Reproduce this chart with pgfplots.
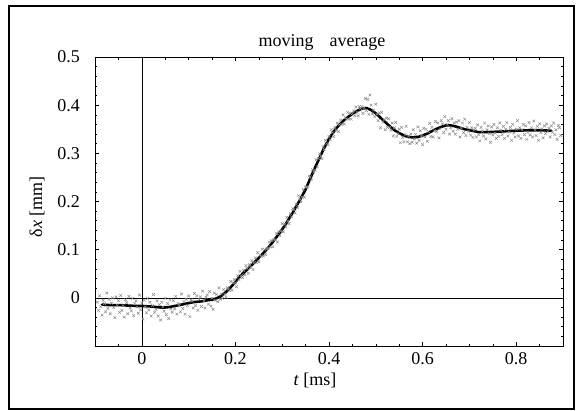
\documentclass[border=0pt]{standalone}
\usepackage{fontspec}
\setmainfont{Liberation Serif}
\usepackage{pgfplots}
\pgfplotsset{compat=1.18}
\begin{document}
\fontsize{18bp}{22bp}\selectfont
\begin{tikzpicture}
\path[use as bounding box] (-95bp,-65bp) rectangle (482bp,346bp);
\draw[line width=1.1pt] (-86bp,-63bp) rectangle (479bp,340bp);
\begin{axis}[
  at={(0,0)}, anchor=south west,
  scale only axis, width=468bp, height=289bp,
  xmin=-0.1, xmax=0.9, ymin=-0.1, ymax=0.5,
  xtick={0,0.2,0.4,0.6,0.8},
  xticklabels={0,0.2,0.4,0.6,0.8},
  ytick={0,0.1,0.2,0.3,0.4,0.5},
  yticklabels={0,0.1,0.2,0.3,0.4,0.5},
  minor xtick={-0.1,-0.05,0.05,0.1,0.15,0.25,0.3,0.35,0.45,0.5,0.55,0.65,0.7,0.75,0.85,0.9},
  minor ytick={-0.1,-0.08,-0.06,-0.04,-0.02,0.02,0.04,0.06,0.08,0.12,0.14,0.16,0.18,0.22,0.24,0.26,0.28,0.32,0.34,0.36,0.38,0.42,0.44,0.46,0.48},
  tick align=inside,
  major tick length=4bp, minor tick length=2.5bp,
  every tick/.style={black, line width=0.6pt},
  axis line style={black, line width=0.8pt},
  yticklabel style={xshift=-9bp},
  /pgf/number format/assume math mode=true,
  clip=true,
]
\addplot[black, line width=0.6pt] coordinates {(0,-0.1) (0,0.5)};
\addplot[black, line width=0.6pt] coordinates {(-0.1,0) (0.9,0)};
\addplot[only marks, mark=x, mark size=1.9pt, color=black!45, mark options={line width=0.5pt}] coordinates {
(-0.095,-0.009) (-0.0925,-0.026) (-0.09,0.004) (-0.0875,-0.018) (-0.085,-0.036) (-0.0825,-0.005) (-0.08,-0.012) (-0.0775,-0.029) (-0.075,0.010) (-0.0725,-0.022)
(-0.07,-0.003) (-0.0675,-0.033) (-0.065,-0.011) (-0.0625,0.000) (-0.06,-0.020) (-0.0575,-0.041) (-0.055,0.002) (-0.0525,-0.016) (-0.05,-0.006) (-0.0475,-0.030)
(-0.045,0.005) (-0.0425,-0.026) (-0.04,-0.016) (-0.0375,-0.040) (-0.035,-0.004) (-0.0325,-0.010) (-0.03,-0.033) (-0.0275,0.003) (-0.025,-0.021) (-0.0225,-0.027)
(-0.02,-0.001) (-0.0175,-0.037) (-0.015,-0.012) (-0.0125,-0.006) (-0.01,-0.019) (-0.0075,-0.032) (-0.005,0.006) (-0.0025,-0.025) (0.0,-0.011) (0.0025,-0.044)
(0.005,-0.005) (0.0075,-0.019) (0.01,-0.031) (0.0125,-0.001) (0.015,-0.025) (0.0175,-0.009) (0.02,-0.038) (0.0225,-0.016) (0.025,0.007) (0.0275,-0.030)
(0.03,-0.024) (0.0325,-0.006) (0.035,-0.038) (0.0375,-0.014) (0.04,-0.046) (0.0425,-0.009) (0.045,-0.019) (0.0475,-0.028) (0.05,-0.001) (0.0525,-0.035)
(0.055,-0.012) (0.0575,-0.043) (0.06,-0.004) (0.0625,-0.023) (0.065,-0.030) (0.0675,-0.006) (0.07,-0.023) (0.0725,0.003) (0.075,-0.034) (0.0775,-0.012)
(0.08,-0.016) (0.0825,-0.029) (0.085,0.008) (0.0875,-0.022) (0.09,-0.008) (0.0925,-0.034) (0.095,-0.003) (0.0975,-0.016) (0.1,0.004) (0.1025,-0.039)
(0.105,-0.004) (0.1075,-0.007) (0.11,-0.021) (0.1125,0.009) (0.115,-0.016) (0.1175,0.004) (0.12,-0.026) (0.1225,-0.003) (0.125,0.002) (0.1275,-0.018)
(0.13,0.014) (0.1325,-0.007) (0.135,-0.021) (0.1375,0.001) (0.14,0.006) (0.1425,-0.013) (0.145,0.013) (0.1475,-0.017) (0.15,-0.001) (0.1525,-0.024)
(0.155,0.010) (0.1575,-0.005) (0.16,0.007) (0.1625,-0.008) (0.165,0.021) (0.1675,-0.003)
(0.17,0.008) (0.1725,-0.001) (0.175,0.017) (0.1775,0.007) (0.18,0.001) (0.1825,0.021) (0.185,0.018) (0.1875,0.015) (0.19,0.034) (0.1925,0.016)
(0.195,0.031) (0.1975,0.038) (0.2,0.031) (0.2025,0.023) (0.205,0.046) (0.2075,0.038) (0.21,0.055) (0.2125,0.046) (0.215,0.042) (0.2175,0.057)
(0.22,0.048) (0.2225,0.067) (0.225,0.061) (0.2275,0.051) (0.23,0.069) (0.2325,0.063) (0.235,0.077) (0.2375,0.059) (0.24,0.073) (0.2425,0.083)
(0.245,0.073) (0.2475,0.094) (0.25,0.075) (0.2525,0.089) (0.255,0.086) (0.2575,0.101) (0.26,0.087) (0.2625,0.100) (0.265,0.090) (0.2675,0.102)
(0.27,0.103) (0.2725,0.116) (0.275,0.106) (0.2775,0.119) (0.28,0.106) (0.2825,0.121) (0.285,0.120) (0.2875,0.134) (0.29,0.116) (0.2925,0.137)
(0.295,0.129) (0.2975,0.139) (0.3,0.154) (0.3025,0.137) (0.305,0.153) (0.3075,0.147) (0.31,0.167) (0.3125,0.159) (0.315,0.154) (0.3175,0.175)
(0.32,0.168) (0.3225,0.185) (0.325,0.183) (0.3275,0.176) (0.33,0.194) (0.3325,0.187) (0.335,0.212) (0.3375,0.205) (0.34,0.199) (0.3425,0.209)
(0.345,0.225) (0.3475,0.209) (0.35,0.230) (0.3525,0.230) (0.355,0.231) (0.3575,0.253) (0.36,0.251) (0.3625,0.245) (0.365,0.266) (0.3675,0.261)
(0.37,0.265) (0.3725,0.287) (0.375,0.272) (0.3775,0.289) (0.38,0.299) (0.3825,0.294) (0.385,0.289) (0.3875,0.314) (0.39,0.308) (0.3925,0.327)
(0.395,0.320) (0.3975,0.318) (0.4,0.335) (0.4025,0.328) (0.405,0.349) (0.4075,0.343) (0.41,0.335) (0.4125,0.354) (0.415,0.348) (0.4175,0.363)
(0.42,0.345) (0.4225,0.360) (0.425,0.369) (0.4275,0.360) (0.43,0.380) (0.4325,0.361) (0.435,0.374) (0.4375,0.371) (0.44,0.385) (0.4425,0.371)
(0.445,0.383) (0.4475,0.371) (0.45,0.383) (0.4525,0.388) (0.455,0.378) (0.4575,0.396) (0.46,0.385) (0.4625,0.378) (0.465,0.397) (0.4675,0.393)
(0.47,0.397) (0.4725,0.383) (0.475,0.395) (0.4775,0.414) (0.48,0.389) (0.4825,0.412) (0.485,0.381) (0.4875,0.421) (0.49,0.400) (0.4925,0.382)
(0.495,0.390) (0.4975,0.376) (0.5,0.402) (0.5025,0.381) (0.505,0.368) (0.5075,0.384) (0.51,0.353) (0.5125,0.385) (0.515,0.365) (0.5175,0.370)
(0.52,0.349) (0.5225,0.373) (0.525,0.354) (0.5275,0.372) (0.53,0.354) (0.5325,0.348) (0.535,0.363) (0.5375,0.336) (0.54,0.353) (0.5425,0.364)
(0.545,0.335) (0.5475,0.341) (0.55,0.350) (0.5525,0.322) (0.555,0.354) (0.5575,0.333) (0.56,0.324) (0.5625,0.339) (0.565,0.356) (0.5675,0.324)
(0.57,0.336) (0.5725,0.320) (0.575,0.340) (0.5775,0.323) (0.58,0.349) (0.5825,0.330) (0.585,0.339) (0.5875,0.321) (0.59,0.355) (0.5925,0.327)
(0.595,0.347) (0.5975,0.336) (0.6,0.318) (0.6025,0.352) (0.605,0.334) (0.6075,0.350) (0.61,0.325) (0.6125,0.345) (0.615,0.362) (0.6175,0.335)
(0.62,0.354) (0.6225,0.334) (0.625,0.347) (0.6275,0.366) (0.63,0.345) (0.6325,0.363) (0.635,0.332) (0.6375,0.351) (0.64,0.368) (0.6425,0.361)
(0.645,0.343) (0.6475,0.376) (0.65,0.350) (0.6525,0.360) (0.655,0.368) (0.6575,0.340) (0.66,0.353) (0.6625,0.372) (0.665,0.346) (0.6675,0.363)
(0.67,0.340) (0.6725,0.365) (0.675,0.350) (0.6775,0.368) (0.68,0.334) (0.6825,0.352) (0.685,0.363) (0.6875,0.343) (0.69,0.371) (0.6925,0.337)
(0.695,0.354) (0.6975,0.346) (0.7,0.364) (0.7025,0.338) (0.705,0.353) (0.7075,0.333) (0.71,0.348) (0.7125,0.352) (0.715,0.334) (0.7175,0.359)
(0.72,0.339) (0.7225,0.326) (0.725,0.354) (0.7275,0.346) (0.73,0.336) (0.7325,0.363) (0.735,0.330) (0.7375,0.349) (0.74,0.357) (0.7425,0.341)
(0.745,0.323) (0.7475,0.355) (0.75,0.338) (0.7525,0.360) (0.755,0.342) (0.7575,0.331) (0.76,0.353) (0.7625,0.335) (0.765,0.363) (0.7675,0.348)
(0.77,0.339) (0.7725,0.356) (0.775,0.331) (0.7775,0.350) (0.78,0.364) (0.7825,0.336) (0.785,0.344) (0.7875,0.354) (0.79,0.327) (0.7925,0.360)
(0.795,0.342) (0.7975,0.334) (0.8,0.350) (0.8025,0.368) (0.805,0.336) (0.8075,0.353) (0.81,0.331) (0.8125,0.349) (0.815,0.360) (0.8175,0.339)
(0.82,0.357) (0.8225,0.329) (0.825,0.344) (0.8275,0.364) (0.83,0.338) (0.8325,0.353) (0.835,0.334) (0.8375,0.367) (0.84,0.348) (0.8425,0.337)
(0.845,0.356) (0.8475,0.327) (0.85,0.361) (0.8525,0.343) (0.855,0.351) (0.8575,0.332) (0.86,0.357) (0.8625,0.341) (0.865,0.361) (0.8675,0.345)
(0.87,0.352) (0.8725,0.334) (0.875,0.357) (0.8775,0.344) (0.88,0.363) (0.8825,0.339) (0.885,0.349) (0.8875,0.329) (0.89,0.358) (0.8925,0.353)
(0.895,0.337)
};
\addplot[black, line width=2.6pt, line join=round, line cap=round] coordinates {
(-0.085,-0.014) (-0.07,-0.015) (-0.05,-0.015) (-0.03,-0.016) (-0.01,-0.017) (0,-0.017) (0.02,-0.018) (0.04,-0.020) (0.05,-0.020) (0.06,-0.019)
(0.07,-0.017) (0.08,-0.015) (0.09,-0.013) (0.10,-0.011) (0.11,-0.009) (0.12,-0.008) (0.13,-0.007) (0.14,-0.005) (0.15,-0.004) (0.16,-0.001)
(0.17,0.004) (0.18,0.012) (0.19,0.022) (0.20,0.033) (0.21,0.045) (0.22,0.054) (0.23,0.063) (0.24,0.073) (0.25,0.083) (0.26,0.093)
(0.27,0.104) (0.28,0.116) (0.29,0.129) (0.30,0.142) (0.31,0.157) (0.32,0.173) (0.33,0.190) (0.34,0.207) (0.35,0.225) (0.36,0.248)
(0.37,0.270) (0.38,0.291) (0.39,0.312) (0.40,0.330) (0.41,0.345) (0.42,0.357) (0.43,0.367) (0.44,0.375) (0.45,0.382) (0.46,0.388)
(0.47,0.393) (0.48,0.394) (0.49,0.390) (0.50,0.383) (0.51,0.374) (0.52,0.365) (0.53,0.356) (0.54,0.348) (0.55,0.342) (0.56,0.337)
(0.57,0.334) (0.58,0.333) (0.59,0.334) (0.60,0.337) (0.61,0.341) (0.62,0.346) (0.63,0.351) (0.64,0.355) (0.65,0.358) (0.66,0.358)
(0.67,0.356) (0.68,0.353) (0.69,0.350) (0.70,0.348) (0.71,0.346) (0.72,0.344) (0.74,0.344) (0.76,0.345) (0.78,0.346) (0.80,0.347)
(0.83,0.348) (0.85,0.348) (0.875,0.347)
};
\end{axis}
\node[anchor=base] at (227bp,299bp) {moving\hspace{16bp}average};
\node at (220bp,-34bp) {\textit{t} [ms]};
\node[rotate=90] at (-58bp,139bp) {δ\textit{x} [mm]};
\end{tikzpicture}
\end{document}
